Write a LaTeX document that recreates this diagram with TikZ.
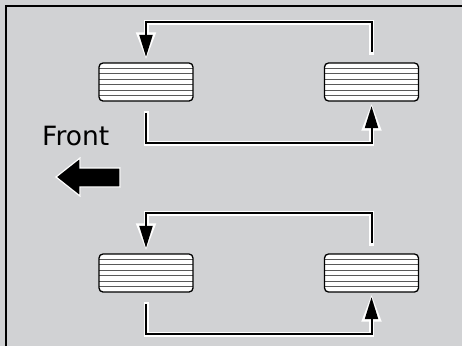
\documentclass[tikz,border=0pt]{standalone}
\usepackage{fontspec}
\setmainfont{DejaVu Sans}
\usetikzlibrary{arrows.meta}
\definecolor{bg}{RGB}{209,210,212}
\begin{document}
\begin{tikzpicture}[x=1pt,y=-1pt,
  tire/.style={draw=black, line width=1.3pt, rounded corners=4pt,
    minimum width=94pt, minimum height=38pt, inner sep=0pt, fill=white,
    path picture={
      \foreach \k in {1,...,6}{
        \draw[line width=0.9pt, black!65]
          ([yshift=-\k*38pt/7]path picture bounding box.north west) --
          ([yshift=-\k*38pt/7]path picture bounding box.north east);
      }}},
  halo/.style={draw=white, line width=5pt, line cap=rect,
    -{Triangle[length=27pt,width=19pt]}},
  link/.style={draw=black, line width=2pt,
    -{Triangle[length=22pt,width=13pt]}}
]
\useasboundingbox (0,0) rectangle (462,346);
\fill[bg] (0,0) rectangle (462,346);
\draw[line width=2pt] (6,346) -- (6,6) -- (462,6);

% tires
\node[tire] (tl) at (146,82) {};
\node[tire] (tr) at (371.5,82) {};
\node[tire] (bl) at (146,273) {};
\node[tire] (br) at (371.5,273) {};

% free ends
\coordinate (trs) at (371.5,52);
\coordinate (tls) at (146,113);
\coordinate (brs) at (371.5,243);
\coordinate (bls) at (146,304);

% upper loop
\draw[halo, shorten >=3pt] (trs) -- (trs |- 0,22) -| (tl.north);
\draw[link, shorten >=5.5pt] (trs) -- (trs |- 0,22) -| (tl.north);
\draw[halo, shorten >=2pt] (tls) -- (tls |- 0,143) -| (tr.south);
\draw[link, shorten >=4.5pt] (tls) -- (tls |- 0,143) -| (tr.south);

% lower loop
\draw[halo, shorten >=3pt] (brs) -- (brs |- 0,213) -| (bl.north);
\draw[link, shorten >=5.5pt] (brs) -- (brs |- 0,213) -| (bl.north);
\draw[halo, shorten >=2pt] (bls) -- (bls |- 0,334) -| (br.south);
\draw[link, shorten >=4.5pt] (bls) -- (bls |- 0,334) -| (br.south);

% front label and arrow
\node[anchor=base west, inner sep=0pt, font=\fontsize{26.5}{26.5}\selectfont] (front) at (42,145) {Front};
\filldraw[fill=black, draw=white, line width=1.2pt, line join=miter]
  (56,177) -- (80,158) -- (80,168) -- (120,168) -- (120,187) -- (80,187) -- (80,196) -- cycle;
\end{tikzpicture}
\end{document}
